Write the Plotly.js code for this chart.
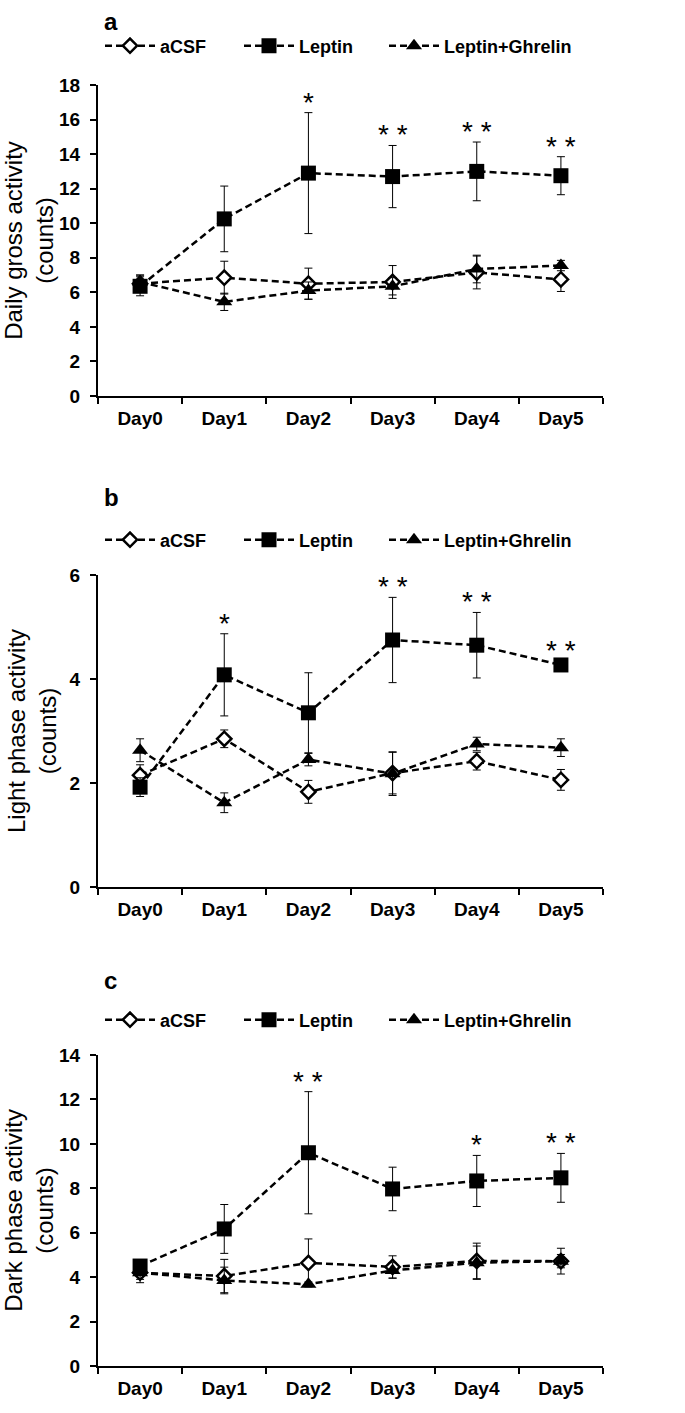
<!DOCTYPE html>
<html>
<head>
<meta charset="utf-8">
<script src="https://cdn.plot.ly/plotly-3.0.1.min.js"></script>
<style>html,body{margin:0;padding:0;background:#fff;}#chart{width:685px;height:1413px;}</style>
</head>
<body>
<div id="chart"></div>
<script>
// ---- data ----
const days = ["Day0", "Day1", "Day2", "Day3", "Day4", "Day5"];
const seriesNames = ["aCSF", "Leptin", "Leptin+Ghrelin"];

// panel a: Daily gross activity
const aCSF_daily = [6.5, 6.85, 6.5, 6.6, 7.15, 6.75];
const aCSF_daily_sem = [0.5, 0.95, 0.9, 0.95, 0.95, 0.7];
const leptin_daily = [6.35, 10.25, 12.9, 12.7, 13.0, 12.75];
const leptin_daily_sem = [0.55, 1.9, 3.5, 1.8, 1.7, 1.1];
const lepGhr_daily = [6.6, 5.45, 6.1, 6.35, 7.35, 7.55];
const lepGhr_daily_sem = [0.4, 0.5, 0.5, 0.5, 0.8, 0.3];
const sig_daily = ["", "", "*", "* *", "* *", "* *"];

// panel b: Light phase activity
const aCSF_light = [2.15, 2.85, 1.83, 2.19, 2.42, 2.06];
const aCSF_light_sem = [0.2, 0.17, 0.22, 0.4, 0.17, 0.2];
const leptin_light = [1.92, 4.08, 3.35, 4.75, 4.65, 4.27];
const leptin_light_sem = [0.18, 0.79, 0.77, 0.82, 0.63, 0.08];
const lepGhr_light = [2.63, 1.62, 2.45, 2.18, 2.75, 2.68];
const lepGhr_light_sem = [0.22, 0.19, 0.12, 0.42, 0.13, 0.17];
const sig_light = ["", "*", "", "* *", "* *", "* *"];

// panel c: Dark phase activity
const aCSF_dark = [4.2, 4.05, 4.64, 4.46, 4.73, 4.72];
const aCSF_dark_sem = [0.45, 0.75, 1.08, 0.5, 0.8, 0.58];
const leptin_dark = [4.5, 6.17, 9.6, 7.97, 8.33, 8.47];
const leptin_dark_sem = [0.2, 1.1, 2.75, 0.98, 1.15, 1.1];
const lepGhr_dark = [4.2, 3.85, 3.68, 4.3, 4.65, 4.72];
const lepGhr_dark_sem = [0.3, 0.6, 0.1, 0.35, 0.75, 0.3];
const sig_dark = ["", "", "* *", "", "*", "* *"];

const panelLabels = ["a", "b", "c"];
const yTitles = ["Daily gross activity<br>(counts)", "Light phase activity<br>(counts)", "Dark phase activity<br>(counts)"];
const yMax = [18, 6, 14];
const yStep = [2, 2, 2];

// ---- layout geometry (pixels) ----
const W = 685, H = 1413;
const plotLeft = 98, plotRight = 603;
const panelTop = [85, 575, 1055];
const panelBottom = [396, 887, 1366];
const legendY = [46, 540, 1020];
const legendX = [100, 384];
const labelY = [22, 497, 980];

const FONT = "Liberation Sans, Arial, sans-serif";
const panels = [
  {m: [aCSF_daily, leptin_daily, lepGhr_daily], s: [aCSF_daily_sem, leptin_daily_sem, lepGhr_daily_sem], sig: sig_daily},
  {m: [aCSF_light, leptin_light, lepGhr_light], s: [aCSF_light_sem, leptin_light_sem, lepGhr_light_sem], sig: sig_light},
  {m: [aCSF_dark, leptin_dark, lepGhr_dark], s: [aCSF_dark_sem, leptin_dark_sem, lepGhr_dark_sem], sig: sig_dark}
];

const markerStyles = [
  {symbol: "diamond", size: 11, color: "#ffffff", line: {color: "#000", width: 2.5}},
  {symbol: "square", size: 15, color: "#000000", line: {color: "#000", width: 0}},
  {symbol: "triangle-up", size: 14, color: "#000000", line: {color: "#000", width: 0}}
];
const drawOrder = [0, 2, 1];

const traces = [];
const annotations = [];
const layout = {
  width: W, height: H,
  margin: {l: 0, r: 0, t: 0, b: 0},
  paper_bgcolor: "#fff", plot_bgcolor: "#fff",
  font: {family: FONT, color: "#000"},
  showlegend: true,
  annotations: annotations
};

function legName(n) { return n === 1 ? "legend" : "legend" + n; }

panels.forEach((p, i) => {
  const xa = i === 0 ? "x" : "x" + (i + 1);
  const ya = i === 0 ? "y" : "y" + (i + 1);
  const xKey = i === 0 ? "xaxis" : "xaxis" + (i + 1);
  const yKey = i === 0 ? "yaxis" : "yaxis" + (i + 1);
  const legA = legName(2 * i + 1);
  const legB = legName(2 * i + 2);

  drawOrder.forEach(k => {
    traces.push({
      type: "scatter", mode: "lines+markers",
      x: days, y: p.m[k],
      xaxis: xa, yaxis: ya,
      name: seriesNames[k],
      legend: k < 2 ? legA : legB,
      legendrank: k + 1,
      line: {color: "#000", width: 2.5, dash: "7px,4px"},
      marker: markerStyles[k],
      error_y: {type: "data", array: p.s[k], visible: true, color: "#000", thickness: 1, width: 4},
      cliponaxis: false
    });
  });

  layout[xKey] = {
    domain: [plotLeft / W, plotRight / W],
    anchor: ya,
    type: "category",
    categoryorder: "array", categoryarray: days,
    range: [-0.5, 5.5],
    showline: true, linecolor: "#000", linewidth: 2,
    ticks: "outside", tickson: "boundaries", ticklen: 6, tickwidth: 2, tickcolor: "#000",
    ticklabelstandoff: 4,
    showgrid: false, zeroline: false,
    tickfont: {family: FONT, size: 19, weight: "bold", color: "#000"},
    fixedrange: true
  };
  layout[yKey] = {
    domain: [1 - panelBottom[i] / H, 1 - panelTop[i] / H],
    anchor: xa,
    range: [0, yMax[i]],
    dtick: yStep[i], tick0: 0,
    showline: true, linecolor: "#000", linewidth: 2,
    ticks: "outside", ticklen: 6, tickwidth: 2, tickcolor: "#000",
    ticklabelstandoff: 6,
    showgrid: false, zeroline: false,
    tickfont: {family: FONT, size: 19, weight: "bold", color: "#000"},
    title: {text: yTitles[i], font: {family: FONT, size: 24, color: "#000"}, standoff: 6},
    fixedrange: true
  };
  const legCommon = {
    orientation: "h",
    y: 1 - legendY[i] / H, yanchor: "middle",
    xanchor: "left",
    font: {family: FONT, size: 18, weight: "bold", color: "#000"},
    traceorder: "normal",
    itemwidth: 50,
    bgcolor: "rgba(0,0,0,0)"
  };
  layout[legA] = Object.assign({}, legCommon, {x: legendX[0] / W, entrywidth: 74});
  layout[legB] = Object.assign({}, legCommon, {x: legendX[1] / W});

  annotations.push({
    xref: "paper", yref: "paper",
    x: 102 / W, y: 1 - labelY[i] / H,
    xanchor: "left", yanchor: "middle",
    text: "<b>" + panelLabels[i] + "</b>",
    showarrow: false,
    font: {family: FONT, size: 24, color: "#000"}
  });

  p.sig.forEach((s, d) => {
    if (!s) return;
    annotations.push({
      xref: xa, yref: ya,
      x: days[d], y: p.m[1][d] + p.s[1][d],
      xanchor: "center", yanchor: "bottom",
      yshift: -7,
      text: s, showarrow: false,
      font: {family: FONT, size: 28, color: "#000"}
    });
  });
});

Plotly.newPlot("chart", traces, layout, {staticPlot: true, displayModeBar: false});
</script>
</body>
</html>
